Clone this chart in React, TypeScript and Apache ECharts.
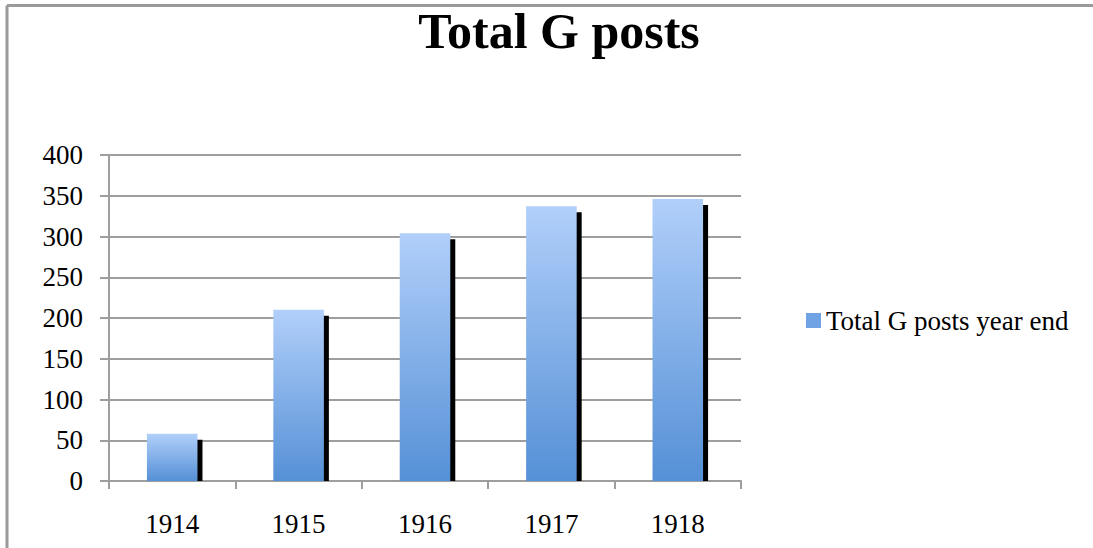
import React, { useEffect, useRef } from "react";
import * as echarts from "echarts";

const categories = ["1914", "1915", "1916", "1917", "1918"];
const values = [58, 210, 304, 337, 346];
const seriesName = "Total G posts year end";
const titleText = "Total G posts";
const yMin = 0;
const yMax = 400;
const yInterval = 50;

export default function App() {
  const ref = useRef<HTMLDivElement>(null);
  useEffect(() => {
    if (!ref.current) return;
    const chart = echarts.init(ref.current, undefined, { renderer: "svg" });
    const font = "'Liberation Serif', 'Times New Roman', serif";
    const gray = "#9e9e9e";
    const option: any = {
      animation: false,
      backgroundColor: "#ffffff",
      title: {
        text: titleText,
        left: 554,
        textAlign: "center",
        top: 1,
        textStyle: { fontFamily: font, fontWeight: "bold", fontSize: 50, color: "#000" },
      },
      graphic: [
        { type: "line", shape: { x1: 7, y1: 5.5, x2: 1093, y2: 5.5 }, style: { stroke: "#9a9a9a", lineWidth: 3 } },
        { type: "line", shape: { x1: 7, y1: 5.5, x2: 7, y2: 548 }, style: { stroke: "#9a9a9a", lineWidth: 3 } },
      ],
      legend: {
        left: 801,
        top: 302,
        icon: "rect",
        itemWidth: 15,
        itemHeight: 15,
        itemGap: 10,
        data: [{ name: seriesName, itemStyle: { color: "#6fa3e4" } }],
        textStyle: { fontFamily: font, fontSize: 27, color: "#000" },
      },
      grid: { left: 109, right: 352, top: 155, bottom: 67 },
      xAxis: {
        type: "category",
        data: categories,
        boundaryGap: true,
        axisLine: { show: true, lineStyle: { color: gray, width: 2 } },
        axisTick: { show: true, length: 8, alignWithLabel: false, lineStyle: { color: gray, width: 2 } },
        axisLabel: { margin: 29, fontFamily: font, fontSize: 27, color: "#000" },
        splitLine: { show: false },
      },
      yAxis: {
        type: "value",
        min: yMin,
        max: yMax,
        interval: yInterval,
        axisLine: { show: true, lineStyle: { color: gray, width: 2 } },
        axisTick: { show: true, length: 9, lineStyle: { color: gray, width: 2 } },
        axisLabel: { margin: 26, fontFamily: font, fontSize: 27, color: "#000" },
        splitLine: { show: true, lineStyle: { color: gray, width: 2 } },
      },
      series: [
        {
          name: seriesName,
          type: "custom",
          data: values.map((v, i) => [i, v]),
          encode: { x: 0, y: 1 },
          renderItem: (params: any, api: any) => {
            const cat = api.value(0);
            const val = api.value(1);
            const top = api.coord([cat, val]);
            const base = api.coord([cat, 0]);
            const band = api.size([1, 0])[0];
            const barW = band * 0.4;
            const x = top[0] - barW / 2;
            const h = base[1] - top[1];
            return {
              type: "group",
              children: [
                {
                  type: "rect",
                  shape: { x: x + barW - 1, y: top[1] + 6, width: 6, height: Math.max(h - 6, 0) },
                  style: { fill: "#000000" },
                },
                {
                  type: "rect",
                  shape: { x: x, y: top[1], width: barW, height: h },
                  style: {
                    fill: new echarts.graphic.LinearGradient(0, 0, 0, 1, [
                      { offset: 0, color: "#b1cffa" },
                      { offset: 1, color: "#5590d6" },
                    ]),
                  },
                },
              ],
            };
          },
        },
      ],
    };
    chart.setOption(option);
    return () => chart.dispose();
  }, []);
  return (
    <div
      ref={ref}
      style={{ position: "absolute", left: 0, top: 0, width: 1093, height: 548 }}
    />
  );
}
